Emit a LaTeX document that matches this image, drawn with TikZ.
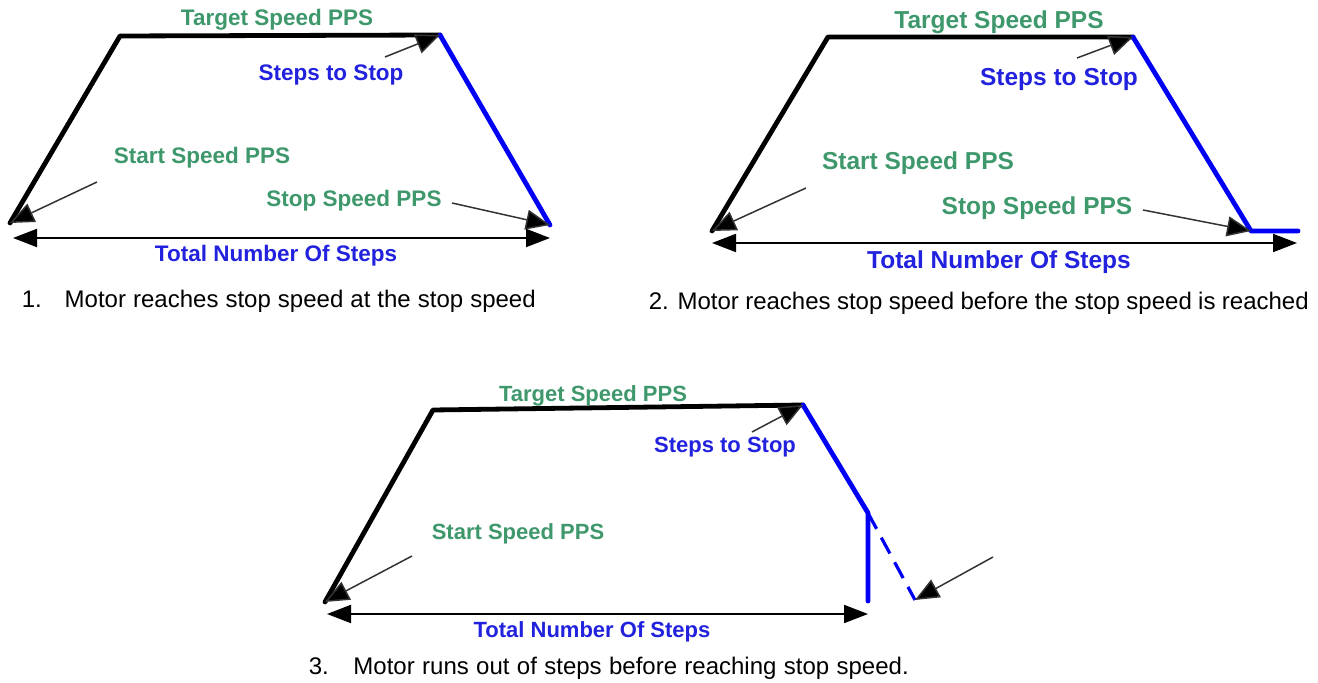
\documentclass[tikz,border=0pt]{standalone}
\usepackage{fontspec}
\setmainfont{Liberation Sans}
\usetikzlibrary{arrows.meta}

\definecolor{lblgreen}{RGB}{62,152,108}
\definecolor{lblblue}{RGB}{34,34,222}
\definecolor{rampblue}{RGB}{0,0,245}

\tikzset{every picture/.style={line width=0.75pt}}
\tikzset{
  ramp/.style={line width=2.4pt, line join=round, line cap=round},
  leader/.style={draw=black!80, line width=0.75pt, -{Triangle[length=12pt,width=10pt,fill=black]}},
  span/.style={line width=1pt, {Triangle[length=12pt,width=9pt]}-{Triangle[length=12pt,width=9pt]}},
  greenlbl/.style={text=lblgreen, inner sep=0pt, font=\bfseries\fontsize{#1}{#1}\selectfont},
  greenlbl/.default=11.25,
  bluelbl/.style={text=lblblue, inner sep=0pt, font=\bfseries\fontsize{#1}{#1}\selectfont},
  bluelbl/.default=11.25,
  caption/.style={anchor=west, inner sep=0pt, font=\fontsize{12}{14}\selectfont}
}

\begin{document}
\begin{tikzpicture}[x=0.5pt,y=0.5pt,yscale=-1,xscale=1]
\path[use as bounding box] (0,0) rectangle (1318,683);

%%% 1. stop speed reached at the stop point
\coordinate (a1) at (10,223);
\coordinate (b1) at (120,36);
\coordinate (c1) at (440,35);
\coordinate (d1) at (550,225);
%Straight Lines
\draw [ramp] (a1) -- (b1) -- (c1);
\draw [ramp, rampblue] (c1) -- (d1);
% Text Node
\node [greenlbl] (tgt1) at (277,20) {Target Speed PPS};
\node [bluelbl] (sts1) at (331,75) {Steps to Stop};
\node [greenlbl] (sta1) at (202,158) {Start Speed PPS};
\node [greenlbl] (stp1) at (354,201) {Stop Speed PPS};
\node [bluelbl] (tot1) at (276,256) {Total Number Of Steps};
\node [caption] (cap1) at (21,301) {\makebox[257pt][s]{1.\hspace{6pt plus 4pt} Motor reaches stop speed at the stop speed}};
%Arrows
\coordinate (sts1t) at (385,57);
\coordinate (sta1t) at (97,182);
\coordinate (stp1t) at (452,203);
\draw [leader] (sts1t) -- (c1);
\draw [leader] (sta1t) -- (a1);
\draw [leader] (stp1t) -- (d1);
\coordinate (l1) at (13,238);
\coordinate (r1) at (550,238);
\draw [span] (l1) -- (r1);

%%% 2. stop speed reached before the end
\coordinate (a2) at (712,231);
\coordinate (b2) at (828,37);
\coordinate (c2) at (1133,37);
\coordinate (d2) at (1251,231);
\coordinate (e2) at (1298,231);
%Straight Lines
\draw [ramp] (a2) -- (b2) -- (c2);
\draw [ramp, rampblue] (c2) -- (d2) -- (e2);
% Text Node
\node [greenlbl=12.25] (tgt2) at (999,22) {Target Speed PPS};
\node [bluelbl=12.25] (sts2) at (1059,79) {Steps to Stop};
\node [greenlbl=12.25] (sta2) at (918,163) {Start Speed PPS};
\node [greenlbl=12.25] (stp2) at (1037,208) {Stop Speed PPS};
\node [bluelbl=12.25] (tot2) at (999,262) {Total Number Of Steps};
\node [caption] (cap2) at (648,303) {\makebox[330pt][s]{2. Motor reaches stop speed before the stop speed is reached}};
%Arrows
\coordinate (sts2t) at (1077,58);
\coordinate (sta2t) at (806,188);
\coordinate (stp2t) at (1143,210);
\draw [leader] (sts2t) -- (c2);
\draw [leader] (sta2t) -- (a2);
\draw [leader] (stp2t) -- (d2);
\coordinate (l2) at (712,243);
\coordinate (r2) at (1297,243);
\draw [span] (l2) -- (r2);

%%% 3. steps run out before the stop speed
\coordinate (a3) at (325,602);
\coordinate (b3) at (433,410);
\coordinate (c3) at (803,405);
\coordinate (d3) at (868,513);
\coordinate (e3) at (868,601);
\coordinate (f3) at (915,600);
%Straight Lines
\draw [ramp] (a3) -- (b3) -- (c3);
\draw [ramp, rampblue] (c3) -- (d3) -- (e3);
\draw [line width=1.6pt, rampblue, dash pattern=on 9pt off 5pt] (d3) -- (f3);
% Text Node
\node [greenlbl=11] (tgt3) at (593,396) {Target Speed PPS};
\node [bluelbl=11] (sts3) at (725,447) {Steps to Stop};
\node [greenlbl=11] (sta3) at (518,534) {Start Speed PPS};
\node [bluelbl=11] (tot3) at (592,632) {Total Number Of Steps};
\node [caption] (cap3) at (308,668) {\makebox[300pt][s]{3.\hspace{6pt plus 4pt} Motor runs out of steps before reaching stop speed.}};
%Arrows
\coordinate (sts3t) at (752,432);
\coordinate (sta3t) at (412,556);
\coordinate (end3t) at (993,557);
\draw [leader] (sts3t) -- (c3);
\draw [leader] (sta3t) -- (a3);
\draw [leader] (end3t) -- (f3);
\coordinate (l3) at (327,614);
\coordinate (r3) at (868,614);
\draw [span] (l3) -- (r3);

\end{tikzpicture}
\end{document}
